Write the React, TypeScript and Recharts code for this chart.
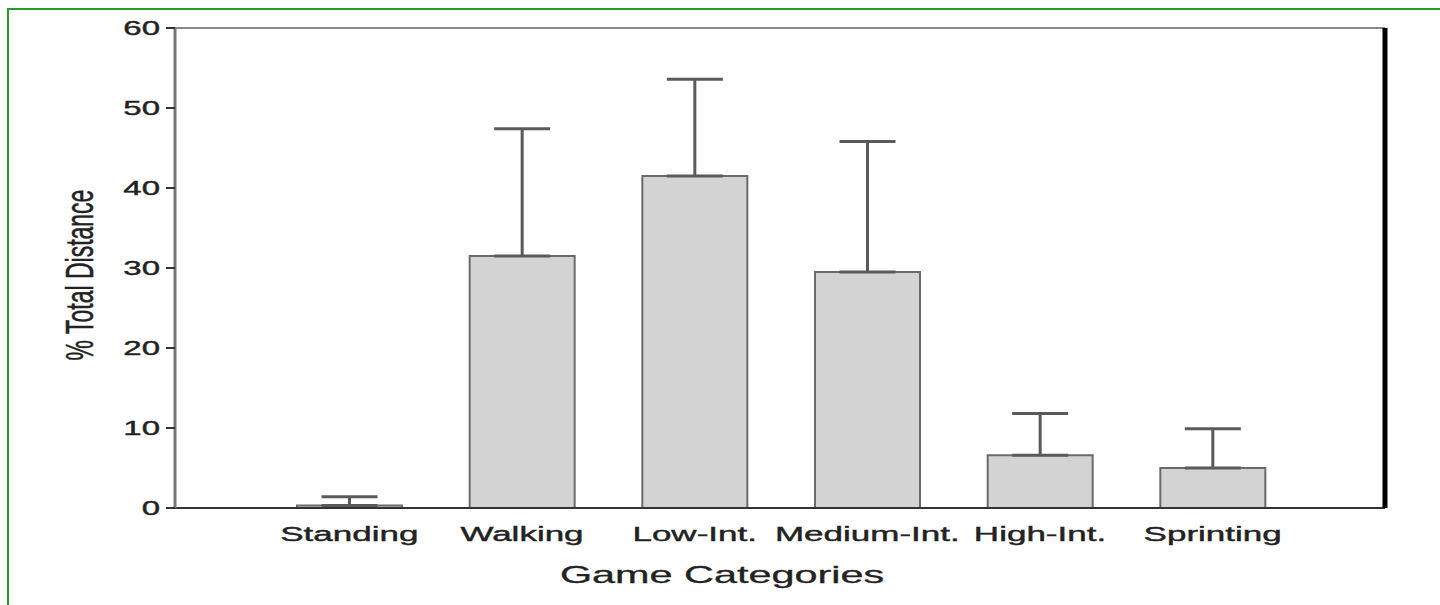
import { BarChart, Bar, XAxis, YAxis, ErrorBar, Label } from 'recharts';

const categories = ['Standing', 'Walking', 'Low-Int.', 'Medium-Int.', 'High-Int.', 'Sprinting'];
const meanDistance = [0.3, 31.5, 41.5, 29.5, 6.6, 5.0];
const sdDistance = [1.1, 15.9, 12.1, 16.3, 5.2, 4.9];
const yTicks = [0, 10, 20, 30, 40, 50, 60];

const data = categories.map((name, i) => ({
  name,
  value: meanDistance[i],
  err: [0, sdDistance[i]],
}));

const FONT = '"Liberation Sans", Arial, sans-serif';

// the source image is stretched sideways, so text is widened with a scale
const CatTick = ({ x, y, payload }: any) => (
  <text
    transform={`translate(${x},${y + 25}) scale(1.75,1)`}
    textAnchor="middle"
    fontFamily={FONT}
    fontSize={20}
    fill="#222"
    stroke="#222"
    strokeWidth={0.4}
  >
    {payload.value}
  </text>
);

const ValTick = ({ x, y, payload }: any) => (
  <text
    transform={`translate(${x - 4},${y + 7}) scale(1.65,1)`}
    textAnchor="end"
    fontFamily={FONT}
    fontSize={20}
    fill="#222"
    stroke="#222"
    strokeWidth={0.4}
  >
    {payload.value}
  </text>
);

export default function App() {
  return (
    <div style={{ position: 'fixed', top: 0, left: 0, width: 1440, height: 605, background: '#fff' }}>
      <div
        style={{
          position: 'absolute',
          top: 8,
          left: 7,
          right: -10,
          bottom: -10,
          borderTop: '2px solid #2a9a2a',
          borderLeft: '2px solid #2a9a2a',
        }}
      />
      <BarChart
        width={1440}
        height={605}
        data={data}
        margin={{ top: 27, right: 54, left: 0, bottom: 67 }}
        style={{ position: 'absolute', top: 0, left: 0 }}
      >
        <XAxis
          dataKey="name"
          height={30}
          padding={{ left: 88, right: 86 }}
          tickLine={false}
          axisLine={{ stroke: '#333', strokeWidth: 2 }}
          tick={<CatTick />}
          interval={0}
        >
          <Label
            content={() => (
              <text
                transform="translate(722,583) scale(1.8,1)"
                textAnchor="middle"
                fontFamily={FONT}
                fontSize={23}
                fill="#222"
                stroke="#222"
                strokeWidth={0.3}
              >
                Game Categories
              </text>
            )}
          />
        </XAxis>
        <XAxis
          xAxisId="top"
          dataKey="name"
          orientation="top"
          height={1}
          tick={false}
          tickLine={false}
          axisLine={{ stroke: '#888', strokeWidth: 2 }}
        />
        <YAxis
          width={175}
          domain={[0, 60]}
          ticks={yTicks}
          tickSize={9}
          tickLine={{ stroke: '#333', strokeWidth: 2 }}
          axisLine={{ stroke: '#777', strokeWidth: 3 }}
          tick={<ValTick />}
        >
          <Label
            content={() => (
              <text
                transform="translate(79,275) scale(1.7,1) rotate(-90)"
                textAnchor="middle"
                dy="0.35em"
                fontFamily={FONT}
                fontSize={23}
                fill="#222"
                stroke="#222"
                strokeWidth={0.3}
              >
                % Total Distance
              </text>
            )}
          />
        </YAxis>
        <YAxis
          yAxisId="right"
          orientation="right"
          width={1}
          domain={[0, 60]}
          tick={false}
          tickLine={false}
          axisLine={{ stroke: '#000', strokeWidth: 5 }}
        />
        <Bar
          dataKey="value"
          fill="#d3d3d3"
          stroke="#6a6a6a"
          strokeWidth={2}
          barSize={105}
          isAnimationActive={false}
        >
          <ErrorBar dataKey="err" direction="y" width={28} stroke="#5a5a5a" strokeWidth={3} />
        </Bar>
      </BarChart>
    </div>
  );
}
